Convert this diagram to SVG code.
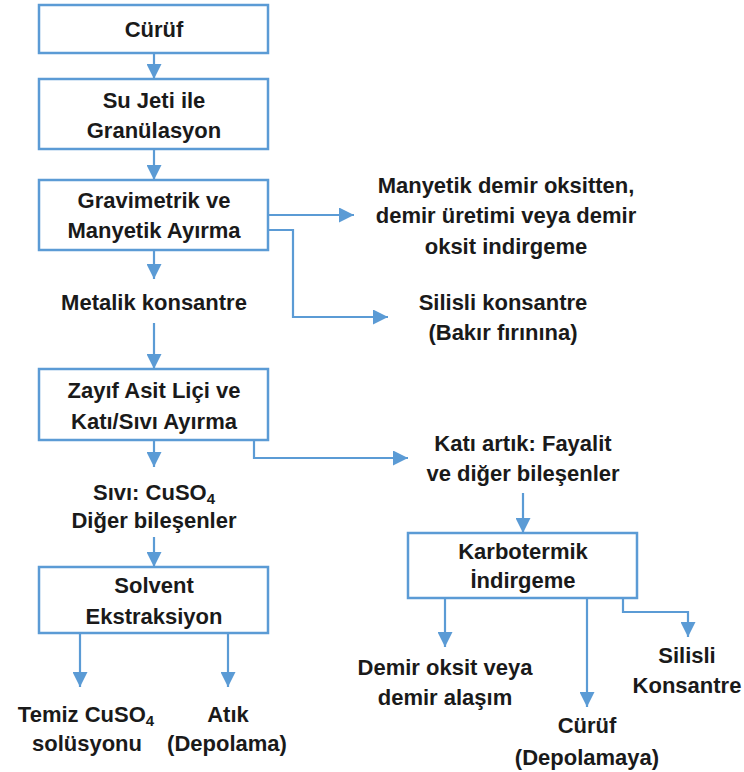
<svg xmlns="http://www.w3.org/2000/svg" width="744" height="772" viewBox="0 0 744 772">
<defs>
<marker id="ah" markerUnits="userSpaceOnUse" markerWidth="15" markerHeight="15" refX="15" refY="7.5" orient="auto">
<path d="M0,0 L15,7.5 L0,15 Z" fill="#5B9BD5"/>
</marker>
<style>
.box{fill:#fff;stroke:#5B9BD5;stroke-width:2.5}
.c{fill:none;stroke:#5B9BD5;stroke-width:2.2;marker-end:url(#ah)}
text{font-family:"Liberation Sans",Arial,sans-serif;font-weight:bold;font-size:22px;fill:#1a1a1a;text-anchor:middle}
.sub{font-size:15px}
</style>
</defs>
<rect width="744" height="772" fill="#fff"/>
<g id="connectors">
<path class="c" d="M154,53 V79"/>
<path class="c" d="M154,149 V180"/>
<path class="c" d="M268,215 H354"/>
<path class="c" d="M268,230 H293 V317 H388"/>
<path class="c" d="M154,250 V279"/>
<path class="c" d="M154,323 V369"/>
<path class="c" d="M154,440 V467"/>
<path class="c" d="M254,440 V458 H408"/>
<path class="c" d="M154,537 V567"/>
<path class="c" d="M523,493 V533"/>
<path class="c" d="M80,633 V687"/>
<path class="c" d="M228,633 V687"/>
<path class="c" d="M445,598 V647"/>
<path class="c" d="M587,598 V707"/>
<path class="c" d="M623,598 V612 H688 V637"/>
</g>
<g id="curuf"><rect class="box" x="39" y="5" width="229" height="48"/><text x="154" y="37">Cürüf</text></g>
<g id="granulasyon"><rect class="box" x="39" y="79" width="229" height="70"/><text x="154" y="108">Su Jeti ile</text><text x="154" y="138">Granülasyon</text></g>
<g id="ayirma"><rect class="box" x="39" y="180" width="229" height="70"/><text x="154" y="208">Gravimetrik ve</text><text x="154" y="238">Manyetik Ayırma</text></g>
<g id="metalik"><text x="154" y="310">Metalik konsantre</text></g>
<g id="manyetik"><text x="506" y="193">Manyetik demir oksitten,</text><text x="506" y="223">demir üretimi veya demir</text><text x="506" y="254">oksit indirgeme</text></g>
<g id="silisli1"><text x="503" y="310">Silisli konsantre</text><text x="503" y="340">(Bakır fırınına)</text></g>
<g id="liçi"><rect class="box" x="39" y="369" width="229" height="71"/><text x="154" y="398">Zayıf Asit Liçi ve</text><text x="154" y="429">Katı/Sıvı Ayırma</text></g>
<g id="sivi"><text x="154" y="500">Sıvı: CuSO<tspan class="sub" dy="4">4</tspan></text><text x="154" y="528">Diğer bileşenler</text></g>
<g id="kati"><text x="523" y="451">Katı artık: Fayalit</text><text x="523" y="481">ve diğer bileşenler</text></g>
<g id="karbotermik"><rect class="box" x="408" y="533" width="229" height="65"/><text x="523" y="559">Karbotermik</text><text x="523" y="588">İndirgeme</text></g>
<g id="solvent"><rect class="box" x="39" y="567" width="229" height="66"/><text x="154" y="593">Solvent</text><text x="154" y="624">Ekstraksiyon</text></g>
<g id="temiz"><text x="86" y="722">Temiz CuSO<tspan class="sub" dy="4">4</tspan></text><text x="87" y="751">solüsyonu</text></g>
<g id="atik"><text x="228" y="722">Atık</text><text x="227" y="751">(Depolama)</text></g>
<g id="demiroksit"><text x="445" y="675">Demir oksit veya</text><text x="445" y="705">demir alaşım</text></g>
<g id="curuf2"><text x="587" y="733">Cürüf</text><text x="587" y="765">(Depolamaya)</text></g>
<g id="silisli2"><text x="687" y="663">Silisli</text><text x="687" y="693">Konsantre</text></g>
</svg>
